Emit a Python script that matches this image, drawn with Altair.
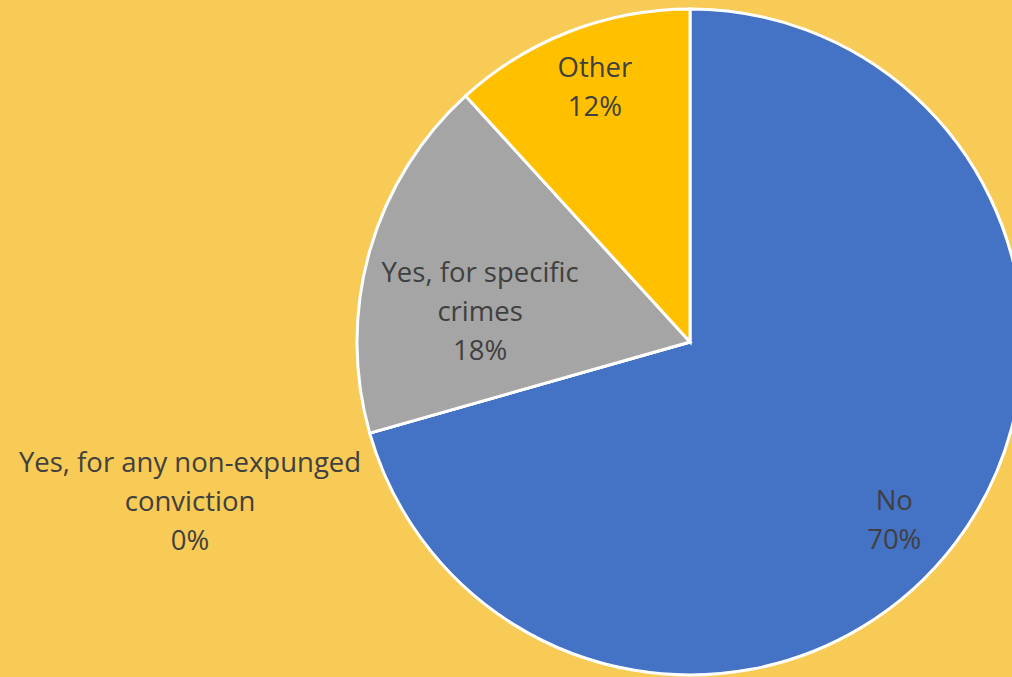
import altair as alt
import pandas as pd
import math

categories = ["No", "Yes, for any non-expunged conviction", "Yes, for specific crimes", "Other"]
counts = [12, 0, 3, 2]
label_lines = [["No", "70%"], ["Yes, for any non-expunged", "conviction", "0%"],
               ["Yes, for specific", "crimes", "18%"], ["Other", "12%"]]
colors = ["#4472C4", "#ED7D31", "#A5A5A5", "#FFC000"]

df = pd.DataFrame({
    "category": categories,
    "count": counts,
    "order": list(range(len(categories))),
    "label": label_lines,
})

CX, CY, R = 690, 342, 333
FONT = "Open Sans"
TXT = "#404040"

pie = alt.Chart(df).mark_arc(outerRadius=R, stroke="white", strokeWidth=3).encode(
    theta=alt.Theta("count:Q", stack=True),
    order=alt.Order("order:Q"),
    x=alt.value(CX),
    y=alt.value(CY),
    color=alt.Color("category:N", scale=alt.Scale(domain=categories, range=colors), legend=None),
)

text_base = alt.Chart(df).transform_window(
    cum="sum(count)", sort=[alt.SortField("order")], frame=[None, 0]
).transform_joinaggregate(
    total="sum(count)"
).transform_calculate(
    mid=f"(datum.cum - datum.count / 2) / datum.total * {2 * math.pi}"
)

def lab(cat, radius, dx, dy):
    return text_base.transform_filter(alt.datum.category == cat).mark_text(
        radius=radius, dx=dx, dy=dy, font=FONT, fontSize=27.5, lineHeight=39,
        color=TXT, align="center", baseline="middle"
    ).encode(
        theta=alt.Theta("mid:Q", scale=None),
        x=alt.value(CX),
        y=alt.value(CY),
        text="label",
    )

chart = alt.layer(
    pie,
    lab("No", 271, -12, -3),
    lab("Other", 277, 5, -15),
    lab("Yes, for specific crimes", 212, -6, -10),
    lab("Yes, for any non-expunged conviction", 524, 4, -21),
).properties(
    width=1012, height=677, background="#F7CB55", padding=0,
    autosize=alt.AutoSizeParams(type="none")
).configure_view(stroke=None)

chart.save("out.html", embed_options={"renderer": "svg", "actions": False})
